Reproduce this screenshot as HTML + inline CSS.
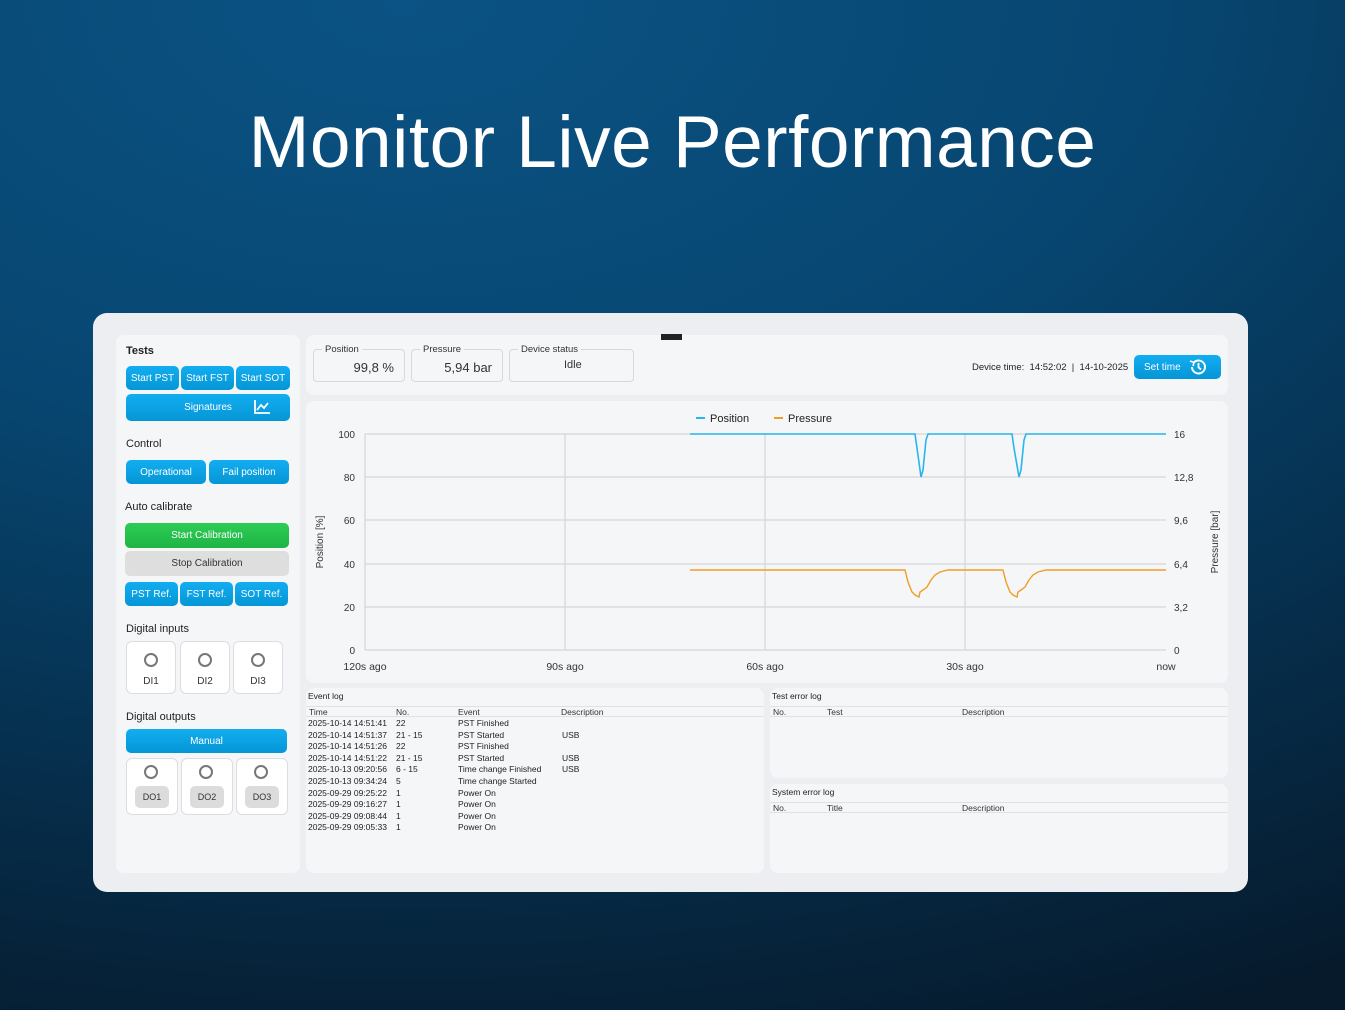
<!DOCTYPE html>
<html><head><meta charset="utf-8"><style>
*{box-sizing:border-box;margin:0;padding:0}
body{width:1345px;height:1010px;overflow:hidden;font-family:"Liberation Sans",sans-serif;background:radial-gradient(ellipse 140% 110% at 30% 0%,#0b5384 0%,#074671 40%,#06304f 70%,#061a2c 100%);position:relative}
.a{position:absolute}
h1{position:absolute;left:0;width:1345px;top:101px;text-align:center;color:#fff;font-weight:400;font-size:73px;letter-spacing:0.5px}
.card{left:93px;top:313px;width:1155px;height:579px;background:#eceef1;border-radius:14px}
.p{background:#f5f6f8;border-radius:8px;position:absolute}
.t{font-size:11px;color:#222;position:absolute}
.b{position:absolute;background:linear-gradient(#12aef0,#0596d6);color:#fff;font-size:10px;border-radius:5px;display:flex;align-items:center;justify-content:center}
.di{position:absolute;background:#fff;border:1px solid #dcdde0;border-radius:6px;width:50px;height:53px}
.di .c{position:absolute;left:17px;top:11px;width:14px;height:14px;border:2px solid #777;border-radius:50%}
.di span{position:absolute;top:34px;width:100%;text-align:center;font-size:10px;color:#333}
.do{position:absolute;background:#fff;border:1px solid #dcdde0;border-radius:6px;width:52px;height:57px}
.do .c{position:absolute;left:17px;top:6px;width:14px;height:14px;border:2px solid #777;border-radius:50%}
.do span{position:absolute;left:8px;top:27px;width:34px;height:22px;background:#dcdcdc;border-radius:5px;font-size:9px;color:#333;display:flex;align-items:center;justify-content:center}
.box{position:absolute;border:1px solid #d6d8db;border-radius:4px;height:33px;top:349px}
.box .l{position:absolute;top:-6px;left:8px;background:#f5f6f8;padding:0 3px;font-size:9.5px;color:#333}
.box .v{position:absolute;top:10px;font-size:13px;color:#333}
.log{font-size:8.5px;color:#222;line-height:11.6px}
.hd{position:absolute;height:11px;border-bottom:1px solid #e0e1e4;border-top:1px solid #e0e1e4;font-size:8.5px;color:#333}
</style></head><body>
<h1>Monitor Live Performance</h1>
<div class="a card"></div>
<div class="p" style="left:116px;top:335px;width:184px;height:538px"></div>
<div class="p" style="left:306px;top:335px;width:922px;height:60px"></div>
<div class="p" style="left:306px;top:401px;width:922px;height:282px"></div>
<div class="p" style="left:306px;top:688px;width:458px;height:185px"></div>
<div class="p" style="left:770px;top:688px;width:458px;height:90px"></div>
<div class="p" style="left:770px;top:784px;width:458px;height:89px"></div>
<div class="a" style="left:661px;top:334px;width:21px;height:6px;background:#222"></div>

<div class="t" style="left:126px;top:345px;font-weight:bold">Tests</div>
<div class="b" style="left:126px;top:366px;width:53px;height:24px">Start PST</div>
<div class="b" style="left:181px;top:366px;width:53px;height:24px">Start FST</div>
<div class="b" style="left:236px;top:366px;width:54px;height:24px">Start SOT</div>
<div class="b" style="left:126px;top:394px;width:164px;height:27px">Signatures<svg class="a" style="left:127px;top:5px" width="18" height="16" viewBox="0 0 18 16"><path d="M2 1V14H17M4 11L8 6L11 9L15 4" fill="none" stroke="#fff" stroke-width="1.8"/></svg></div>
<div class="t" style="left:126px;top:438px">Control</div>
<div class="b" style="left:126px;top:460px;width:80px;height:24px">Operational</div>
<div class="b" style="left:209px;top:460px;width:80px;height:24px">Fail position</div>
<div class="t" style="left:125px;top:501px">Auto calibrate</div>
<div class="b" style="left:125px;top:523px;width:164px;height:25px;background:linear-gradient(#2dcc55,#1fb444)">Start Calibration</div>
<div class="b" style="left:125px;top:551px;width:164px;height:25px;background:#dedede;color:#333">Stop Calibration</div>
<div class="b" style="left:125px;top:582px;width:53px;height:24px">PST Ref.</div>
<div class="b" style="left:180px;top:582px;width:53px;height:24px">FST Ref.</div>
<div class="b" style="left:235px;top:582px;width:53px;height:24px">SOT Ref.</div>
<div class="t" style="left:126px;top:623px">Digital inputs</div>
<div class="di" style="left:126px;top:641px"><div class="c"></div><span>DI1</span></div>
<div class="di" style="left:180px;top:641px"><div class="c"></div><span>DI2</span></div>
<div class="di" style="left:233px;top:641px"><div class="c"></div><span>DI3</span></div>
<div class="t" style="left:126px;top:711px">Digital outputs</div>
<div class="b" style="left:126px;top:729px;width:161px;height:24px">Manual</div>
<div class="do" style="left:126px;top:758px"><div class="c"></div><span>DO1</span></div>
<div class="do" style="left:181px;top:758px"><div class="c"></div><span>DO2</span></div>
<div class="do" style="left:236px;top:758px"><div class="c"></div><span>DO3</span></div>

<div class="box" style="left:313px;width:92px"><div class="l">Position</div><div class="v" style="right:10px">99,8 %</div></div>
<div class="box" style="left:411px;width:92px"><div class="l">Pressure</div><div class="v" style="right:10px">5,94 bar</div></div>
<div class="box" style="left:509px;width:125px"><div class="l">Device status</div><div class="v" style="left:54px;font-size:11px;top:9px">Idle</div></div>
<div class="t" style="left:972px;top:362px;font-size:9.5px">Device time:&nbsp; 14:52:02 &nbsp;|&nbsp; 14-10-2025</div>
<div class="b" style="left:1134px;top:355px;width:87px;height:24px;justify-content:flex-start;padding-left:10px">Set time<svg class="a" style="left:54px;top:3px" width="20" height="18" viewBox="0 0 20 18"><path d="M4 9A6.5 6.5 0 1 0 6 4.3" fill="none" stroke="#fff" stroke-width="2"/><path d="M2 3L6 4.5L5 8" fill="none" stroke="#fff" stroke-width="1.6"/><path d="M10.5 5V9.5L13 11.5" fill="none" stroke="#fff" stroke-width="1.8"/></svg></div>

<svg class="a" style="left:0;top:0" width="1345" height="1010" font-family="Liberation Sans, sans-serif">
<g stroke="#d6d7da" stroke-width="1.3">
<line x1="365" y1="434" x2="1166" y2="434"/><line x1="365" y1="477" x2="1166" y2="477"/><line x1="365" y1="520" x2="1166" y2="520"/><line x1="365" y1="564" x2="1166" y2="564"/><line x1="365" y1="607" x2="1166" y2="607"/><line x1="365" y1="650" x2="1166" y2="650"/>
<line x1="365" y1="434" x2="365" y2="650"/><line x1="565" y1="434" x2="565" y2="650"/><line x1="765" y1="434" x2="765" y2="650"/><line x1="965" y1="434" x2="965" y2="650"/>
</g>
<g font-size="10" fill="#333" text-anchor="end">
<text x="355" y="438">100</text><text x="355" y="481">80</text><text x="355" y="524">60</text><text x="355" y="568">40</text><text x="355" y="611">20</text><text x="355" y="654">0</text></g>
<g font-size="10" fill="#333">
<text x="1174" y="438">16</text><text x="1174" y="481">12,8</text><text x="1174" y="524">9,6</text><text x="1174" y="568">6,4</text><text x="1174" y="611">3,2</text><text x="1174" y="654">0</text></g>
<g font-size="10.5" fill="#333" text-anchor="middle">
<text x="365" y="670">120s ago</text><text x="565" y="670">90s ago</text><text x="765" y="670">60s ago</text><text x="965" y="670">30s ago</text><text x="1166" y="670">now</text></g>
<text transform="translate(323,542) rotate(-90)" font-size="10" fill="#333" text-anchor="middle">Position [%]</text>
<text transform="translate(1218,542) rotate(-90)" font-size="10" fill="#333" text-anchor="middle">Pressure [bar]</text>
<line x1="696" y1="418" x2="705" y2="418" stroke="#29b6ec" stroke-width="2"/><text x="710" y="422" font-size="11" fill="#222">Position</text>
<line x1="774" y1="418" x2="783" y2="418" stroke="#f39c25" stroke-width="2"/><text x="788" y="422" font-size="11" fill="#222">Pressure</text>
<polyline fill="none" stroke="#29b6ec" stroke-width="1.6" points="690,434 915,434 917,448 921,477 923,470 926,440 928,434 1012,434 1014,448 1019,477 1021,470 1024,440 1026,434 1166,434"/>
<polyline fill="none" stroke="#f39c25" stroke-width="1.4" points="690,570 905,570 908,582 912,592 915,595 919,597 920,592 923,590 927,587 931,580 935,575 940,572 948,570 1003,570 1006,582 1010,592 1013,595 1017,597 1018,592 1021,590 1025,587 1029,580 1033,575 1038,572 1046,570 1166,570"/>
</svg>

<div class="t" style="left:308px;top:691px;font-size:8.5px">Event log</div>
<div class="hd" style="left:306px;top:706px;width:458px"><span class="a" style="left:3px">Time</span><span class="a" style="left:90px">No.</span><span class="a" style="left:152px">Event</span><span class="a" style="left:255px">Description</span></div>
<div class="a log" style="left:308px;top:718px">2025-10-14 14:51:41<br>2025-10-14 14:51:37<br>2025-10-14 14:51:26<br>2025-10-14 14:51:22<br>2025-10-13 09:20:56<br>2025-10-13 09:34:24<br>2025-09-29 09:25:22<br>2025-09-29 09:16:27<br>2025-09-29 09:08:44<br>2025-09-29 09:05:33</div>
<div class="a log" style="left:396px;top:718px">22<br>21 - 15<br>22<br>21 - 15<br>6 - 15<br>5<br>1<br>1<br>1<br>1</div>
<div class="a log" style="left:458px;top:718px">PST Finished<br>PST Started<br>PST Finished<br>PST Started<br>Time change Finished<br>Time change Started<br>Power On<br>Power On<br>Power On<br>Power On</div>
<div class="a log" style="left:562px;top:718px"><br>USB<br><br>USB<br>USB</div>

<div class="t" style="left:772px;top:691px;font-size:8.5px">Test error log</div>
<div class="hd" style="left:770px;top:706px;width:458px"><span class="a" style="left:3px">No.</span><span class="a" style="left:57px">Test</span><span class="a" style="left:192px">Description</span></div>
<div class="t" style="left:772px;top:787px;font-size:8.5px">System error log</div>
<div class="hd" style="left:770px;top:802px;width:458px"><span class="a" style="left:3px">No.</span><span class="a" style="left:57px">Title</span><span class="a" style="left:192px">Description</span></div>
</body></html>
